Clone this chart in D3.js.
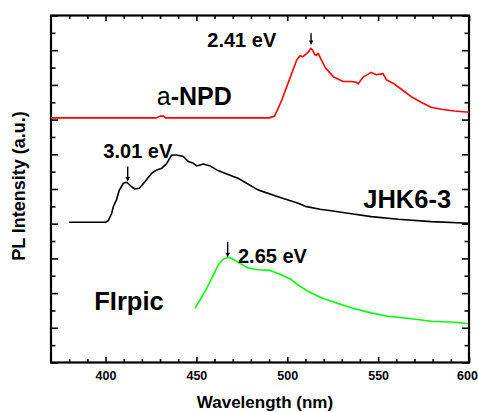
<!DOCTYPE html>
<html>
<head>
<meta charset="utf-8">
<script src="https://cdn.jsdelivr.net/npm/d3@7"></script>
<style>
  html, body { margin: 0; padding: 0; background: #fff; }
  svg { display: block; }
  text { font-family: Arial, "Liberation Sans", sans-serif; }
</style>
</head>
<body>
<svg id="chart" width="478" height="412"></svg>
<script>
// ---- data (wavelength nm, PL intensity a.u. incl. vertical offset) ----
const npdNm  = [370, 428, 430, 432, 433, 490, 493, 495, 497, 499.7, 502.5, 505.2, 507, 508.5, 510.7, 512, 513, 514, 515, 516, 517, 518.5, 521, 525.6, 530.7, 535, 538, 539, 541.7, 546.2, 549, 552.7, 554.5, 558.2, 562.8, 568.2, 574.7, 579.2, 584.7, 592, 600];
const npdVal = [14.1, 14.1, 14.2, 14.2, 14.1, 14.1, 14.2, 14.65, 15.13, 15.9, 16.67, 17.43, 17.68, 17.62, 17.82, 17.95, 18.11, 18.0, 17.75, 17.7, 17.82, 17.5, 16.98, 16.45, 16.2, 16.2, 16.15, 16.05, 16.45, 16.72, 16.58, 16.65, 16.3, 16.1, 15.75, 15.32, 14.94, 14.71, 14.6, 14.5, 14.42];

const jhkNm  = [380, 400, 401.5, 403.4, 404.3, 406, 407.6, 409.8, 411.7, 414.4, 416.2, 418.6, 421.7, 425.4, 428.2, 431, 433.7, 436.4, 439.2, 442.8, 445.6, 448.3, 450.2, 453.8, 457.5, 461.2, 470.3, 472.9, 483.9, 494.9, 506, 510, 518, 524.2, 533.4, 546.2, 561, 579.3, 600];
const jhkVal = [8.08, 8.08, 8.17, 8.6, 8.98, 9.37, 9.94, 10.33, 10.39, 10.13, 10.0, 10.04, 10.42, 10.91, 11.1, 11.2, 11.48, 11.96, 11.96, 11.87, 11.58, 11.48, 11.33, 11.44, 11.33, 11.1, 10.72, 10.62, 9.95, 9.56, 9.18, 9.0, 8.83, 8.75, 8.6, 8.41, 8.26, 8.12, 8.03];

const firNm  = [449.2, 452, 455.7, 459.3, 462, 464.8, 467.6, 470.3, 473, 478.4, 483.9, 490.3, 496.7, 502.2, 506.8, 511.4, 518.7, 527.9, 537.1, 546.2, 555.4, 568.3, 579.3, 592.1, 599.5];
const firVal = [3.12, 3.6, 4.28, 5.04, 5.62, 5.95, 6.06, 5.95, 5.77, 5.45, 5.35, 5.31, 5.06, 4.78, 4.4, 4.11, 3.73, 3.4, 3.1, 2.86, 2.67, 2.52, 2.38, 2.32, 2.23];

const xTickLabels = [400, 450, 500, 550, 600];
const seriesNames = ["a-NPD", "JHK6-3", "FIrpic"];
const peakLabels  = ["2.41 eV", "3.01 eV", "2.65 eV"];
const peakNm      = [513.1, 412.2, 467.2];

// ---- layout ----
const svg = d3.select("#chart");
const L = 51, R = 469, T = 15.5, B = 362.5;
const x = d3.scaleLinear().domain([370, 600]).range([L, R]);
const y = d3.scaleLinear().domain([0, 20]).range([B, T]);

const minorX = d3.range(380, 601, 10).filter(v => v % 50 !== 0);
const majorX = d3.range(400, 601, 50);
const minorY = d3.range(1, 20, 2);
const majorY = d3.range(0, 21, 2);

function styleAxis(g) {
  g.select(".domain").remove();
  g.selectAll(".tick line").attr("stroke", "#000").attr("stroke-width", 1.6);
}

// bottom
svg.append("g").attr("transform", `translate(0,${B})`)
  .call(d3.axisBottom(x).tickValues(minorX).tickSize(-3.5).tickFormat(""))
  .call(styleAxis);
const bx = svg.append("g").attr("transform", `translate(0,${B})`)
  .call(d3.axisBottom(x).tickValues(xTickLabels).tickSize(-5.5).tickFormat(d3.format("d")))
  .call(styleAxis);
bx.selectAll(".tick text")
  .attr("y", 17).attr("dy", 0)
  .attr("x", d => d === 600 ? -2 : 0)
  .attr("font-size", 12.5).attr("font-weight", "bold").attr("fill", "#000")
  .attr("font-family", "Arial, 'Liberation Sans', sans-serif");
// top
svg.append("g").attr("transform", `translate(0,${T})`)
  .call(d3.axisTop(x).tickValues(minorX).tickSize(-3.5).tickFormat(""))
  .call(styleAxis);
svg.append("g").attr("transform", `translate(0,${T})`)
  .call(d3.axisTop(x).tickValues(majorX).tickSize(-5.5).tickFormat(""))
  .call(styleAxis);
// left
svg.append("g").attr("transform", `translate(${L},0)`)
  .call(d3.axisLeft(y).tickValues(minorY).tickSize(-4.5).tickFormat(""))
  .call(styleAxis);
svg.append("g").attr("transform", `translate(${L},0)`)
  .call(d3.axisLeft(y).tickValues(majorY).tickSize(-7).tickFormat(""))
  .call(styleAxis);
// right
svg.append("g").attr("transform", `translate(${R},0)`)
  .call(d3.axisRight(y).tickValues(minorY).tickSize(-4.5).tickFormat(""))
  .call(styleAxis);
svg.append("g").attr("transform", `translate(${R},0)`)
  .call(d3.axisRight(y).tickValues(majorY).tickSize(-7).tickFormat(""))
  .call(styleAxis);

// frame
svg.append("rect").attr("x", L).attr("y", T).attr("width", R - L).attr("height", B - T)
  .attr("fill", "none").attr("stroke", "#000").attr("stroke-width", 2.2);

// curves
const line = d3.line().x(d => x(d[0])).y(d => y(d[1]));
const series = [
  { nm: npdNm, v: npdVal, color: "#ff0000" },
  { nm: jhkNm, v: jhkVal, color: "#000000" },
  { nm: firNm, v: firVal, color: "#00ff00" }
];
series.forEach(s => {
  svg.append("path")
    .datum(d3.zip(s.nm, s.v))
    .attr("d", line)
    .attr("fill", "none")
    .attr("stroke", s.color)
    .attr("stroke-width", 1.6)
    .attr("stroke-linejoin", "round");
});

// peak arrows
const arrowTop = [18.97, 11.3, 6.96];
const arrowBot = [18.3, 10.43, 6.06];
peakNm.forEach((p, i) => {
  const px = x(p), y1 = y(arrowTop[i]), y2 = y(arrowBot[i]);
  svg.append("line").attr("x1", px).attr("x2", px).attr("y1", y1).attr("y2", y2 - 3)
    .attr("stroke", "#000").attr("stroke-width", 1.4);
  svg.append("path")
    .attr("d", `M${px - 2.2},${y2 - 4.5} L${px + 2.2},${y2 - 4.5} L${px},${y2} Z`)
    .attr("fill", "#000");
});

// peak labels
const peakLabelNm = [456.0, 398.8, 472.9];
const peakLabelV  = [18.2, 11.76, 5.72];
peakLabels.forEach((t, i) => {
  svg.append("text").attr("x", x(peakLabelNm[i])).attr("y", y(peakLabelV[i]))
    .attr("font-size", 20).attr("font-weight", "bold").attr("fill", "#000").text(t);
});

// series labels
const nameNm = [428.2, 541.8, 393.8];
const nameV  = [14.84, 8.89, 3.0];
// a-NPD: "a" in regular weight, "-NPD" bold
const t0 = svg.append("text").attr("x", x(nameNm[0])).attr("y", y(nameV[0]))
  .attr("font-size", 25).attr("fill", "#000");
t0.append("tspan").attr("font-weight", "normal").text(seriesNames[0].slice(0, 1));
t0.append("tspan").attr("font-weight", "bold").text(seriesNames[0].slice(1));
[1, 2].forEach(i => {
  svg.append("text").attr("x", x(nameNm[i])).attr("y", y(nameV[i]))
    .attr("font-size", 25.5).attr("font-weight", "bold").attr("fill", "#000").text(seriesNames[i]);
});

// axis titles
svg.append("text").attr("x", (L + R) / 2 + 5).attr("y", 408)
  .attr("text-anchor", "middle").attr("font-size", 17).attr("font-weight", "bold")
  .text("Wavelength (nm)");
svg.append("text").attr("transform", `translate(25,${(T + B) / 2 - 3}) rotate(-90)`)
  .attr("text-anchor", "middle").attr("font-size", 18).attr("font-weight", "bold")
  .text("PL Intensity (a.u.)");
</script>
</body>
</html>
